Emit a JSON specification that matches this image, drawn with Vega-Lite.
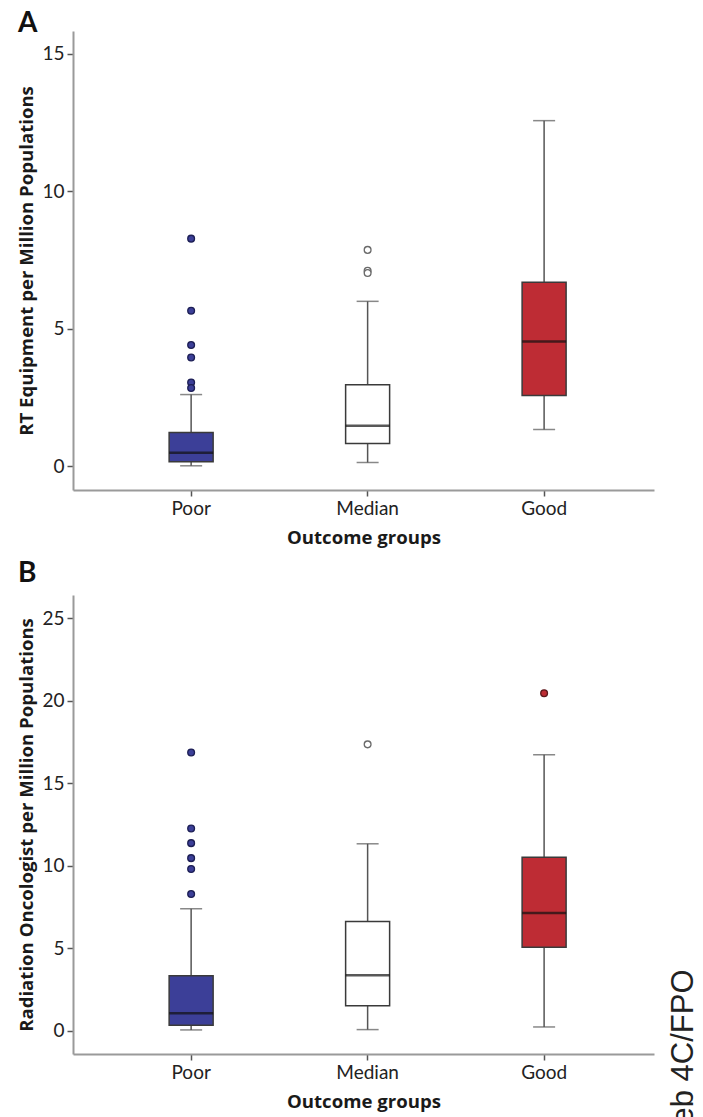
{
  "$schema": "https://vega.github.io/schema/vega-lite/v6.json",
  "background": "white",
  "padding": {"left": 17, "top": 10, "right": 0, "bottom": 0},
  "spacing": 13,
  "config": {
    "font": "Lato",
    "view": {"stroke": null},
    "axis": {
      "grid": false,
      "domainColor": "#9a9a9a",
      "domainWidth": 2,
      "tickColor": "#555555",
      "tickWidth": 1.5,
      "tickSize": 6,
      "labelFont": "Lato",
      "labelFontSize": 19,
      "labelColor": "#222222",
      "labelPadding": 3,
      "titleFont": "Open Sans",
      "titleFontSize": 18.6,
      "titleFontWeight": "bold",
      "titleColor": "#1a1a1a"
    },
    "axisX": {"labelAngle": 0, "titlePadding": 10},
    "axisY": {"titlePadding": 5}
  },
  "datasets": {
    "statsA": [
      {"group": "Poor", "lower": 0.01, "q1": 0.16, "median": 0.48, "q3": 1.22, "upper": 2.6},
      {"group": "Median", "lower": 0.13, "q1": 0.82, "median": 1.47, "q3": 2.96, "upper": 5.99},
      {"group": "Good", "lower": 1.33, "q1": 2.57, "median": 4.53, "q3": 6.68, "upper": 12.56}
    ],
    "outA": [
      {"group": "Poor", "value": 8.27},
      {"group": "Poor", "value": 5.65},
      {"group": "Poor", "value": 4.4},
      {"group": "Poor", "value": 3.95},
      {"group": "Poor", "value": 3.04},
      {"group": "Poor", "value": 2.84},
      {"group": "Median", "value": 7.86},
      {"group": "Median", "value": 7.1},
      {"group": "Median", "value": 7.02}
    ],
    "statsB": [
      {"group": "Poor", "lower": 0.04, "q1": 0.32, "median": 1.05, "q3": 3.33, "upper": 7.39},
      {"group": "Median", "lower": 0.06, "q1": 1.51, "median": 3.35, "q3": 6.62, "upper": 11.33},
      {"group": "Good", "lower": 0.22, "q1": 5.05, "median": 7.13, "q3": 10.52, "upper": 16.73}
    ],
    "outB": [
      {"group": "Poor", "value": 16.87},
      {"group": "Poor", "value": 12.26},
      {"group": "Poor", "value": 11.37},
      {"group": "Poor", "value": 10.46},
      {"group": "Poor", "value": 9.8},
      {"group": "Poor", "value": 8.28},
      {"group": "Median", "value": 17.36},
      {"group": "Good", "value": 20.46}
    ]
  },
  "vconcat": [
    {
      "width": 581,
      "height": 459,
      "title": {"text": "A", "anchor": "start", "frame": "group", "font": "Lato", "fontSize": 28, "fontWeight": "bold", "color": "#111111", "dx": -55, "offset": -29, "baseline": "alphabetic"},
      "encoding": {
        "x": {
          "field": "group", "type": "nominal", "sort": ["Poor", "Median", "Good"],
          "scale": {"type": "band", "paddingInner": 0, "paddingOuter": 0.146, "align": 0.58},
          "axis": {"title": "Outcome groups"}
        }
      },
      "layer": [
        {
          "data": {"name": "statsA"},
          "mark": {"type": "rule", "color": "#555555", "strokeWidth": 1.5},
          "encoding": {
            "y": {"field": "lower", "type": "quantitative",
                  "scale": {"domain": [-0.87, 15.82], "nice": false, "zero": false},
                  "axis": {"values": [0, 5, 10, 15], "title": "RT Equipment per Million Populations"}},
            "y2": {"field": "upper"}
          }
        },
        {
          "data": {"name": "statsA"},
          "mark": {"type": "tick", "orient": "horizontal", "size": 22, "thickness": 1.5, "color": "#555555"},
          "encoding": {"y": {"field": "lower", "type": "quantitative"}}
        },
        {
          "data": {"name": "statsA"},
          "mark": {"type": "tick", "orient": "horizontal", "size": 22, "thickness": 1.5, "color": "#555555"},
          "encoding": {"y": {"field": "upper", "type": "quantitative"}}
        },
        {
          "data": {"name": "statsA"},
          "mark": {"type": "bar", "size": 44, "stroke": "#3a3a3a", "strokeWidth": 1.5},
          "encoding": {
            "y": {"field": "q1", "type": "quantitative"},
            "y2": {"field": "q3"},
            "fill": {"field": "group", "type": "nominal", "legend": null,
                     "scale": {"domain": ["Poor", "Median", "Good"], "range": ["#3c3f98", "#ffffff", "#be2c34"]}}
          }
        },
        {
          "data": {"name": "statsA"},
          "mark": {"type": "tick", "orient": "horizontal", "size": 44, "thickness": 2.5, "color": "#111111"},
          "encoding": {"y": {"field": "median", "type": "quantitative"}}
        },
        {
          "data": {"name": "outA"},
          "mark": {"type": "point", "filled": true, "opacity": 1, "size": 46, "strokeWidth": 1.3, "shape": "circle"},
          "encoding": {
            "y": {"field": "value", "type": "quantitative"},
            "fill": {"field": "group", "type": "nominal", "legend": null},
            "stroke": {"field": "group", "type": "nominal", "legend": null,
                       "scale": {"domain": ["Poor", "Median", "Good"], "range": ["#1d1f55", "#6a6a6a", "#5c1a1e"]}}
          }
        }
      ]
    },
    {
      "width": 581,
      "height": 459,
      "title": {"text": "B", "anchor": "start", "frame": "group", "font": "Lato", "fontSize": 28, "fontWeight": "bold", "color": "#111111", "dx": -55, "offset": -15, "baseline": "alphabetic"},
      "encoding": {
        "x": {
          "field": "group", "type": "nominal", "sort": ["Poor", "Median", "Good"],
          "scale": {"type": "band", "paddingInner": 0, "paddingOuter": 0.146, "align": 0.58},
          "axis": {"title": "Outcome groups"}
        }
      },
      "layer": [
        {
          "layer": [
            {
              "data": {"name": "statsB"},
              "mark": {"type": "rule", "color": "#555555", "strokeWidth": 1.5},
              "encoding": {
                "y": {"field": "lower", "type": "quantitative",
                      "scale": {"domain": [-1.42, 26.42], "nice": false, "zero": false},
                      "axis": {"values": [0, 5, 10, 15, 20, 25], "title": "Radiation Oncologist per Million Populations"}},
                "y2": {"field": "upper"}
              }
            },
            {
              "data": {"name": "statsB"},
              "mark": {"type": "tick", "orient": "horizontal", "size": 22, "thickness": 1.5, "color": "#555555"},
              "encoding": {"y": {"field": "lower", "type": "quantitative"}}
            },
            {
              "data": {"name": "statsB"},
              "mark": {"type": "tick", "orient": "horizontal", "size": 22, "thickness": 1.5, "color": "#555555"},
              "encoding": {"y": {"field": "upper", "type": "quantitative"}}
            },
            {
              "data": {"name": "statsB"},
              "mark": {"type": "bar", "size": 44, "stroke": "#3a3a3a", "strokeWidth": 1.5},
              "encoding": {
                "y": {"field": "q1", "type": "quantitative"},
                "y2": {"field": "q3"},
                "fill": {"field": "group", "type": "nominal", "legend": null,
                         "scale": {"domain": ["Poor", "Median", "Good"], "range": ["#3c3f98", "#ffffff", "#be2c34"]}}
              }
            },
            {
              "data": {"name": "statsB"},
              "mark": {"type": "tick", "orient": "horizontal", "size": 44, "thickness": 2.5, "color": "#111111"},
              "encoding": {"y": {"field": "median", "type": "quantitative"}}
            },
            {
              "data": {"name": "outB"},
              "mark": {"type": "point", "filled": true, "opacity": 1, "size": 46, "strokeWidth": 1.3, "shape": "circle"},
              "encoding": {
                "y": {"field": "value", "type": "quantitative"},
                "fill": {"field": "group", "type": "nominal", "legend": null},
                "stroke": {"field": "group", "type": "nominal", "legend": null,
                           "scale": {"domain": ["Poor", "Median", "Good"], "range": ["#1d1f55", "#6a6a6a", "#5c1a1e"]}}
              }
            }
          ]
        },
        {
          "data": {"name": "outB"},
          "mark": {"type": "point", "opacity": 0},
          "encoding": {
            "y": {"field": "value", "type": "quantitative",
                  "axis": {"orient": "right", "title": "web 4C/FPO", "labels": false, "ticks": false, "domain": false,
                           "titleFont": "Liberation Sans", "titleFontSize": 31, "titleFontWeight": "normal", "titleColor": "#222222",
                           "titleAngle": 270, "titleAlign": "right", "titleBaseline": "middle", "titleX": 29, "titleY": 374}}
          }
        }
      ],
      "resolve": {"axis": {"y": "independent"}}
    }
  ]
}
